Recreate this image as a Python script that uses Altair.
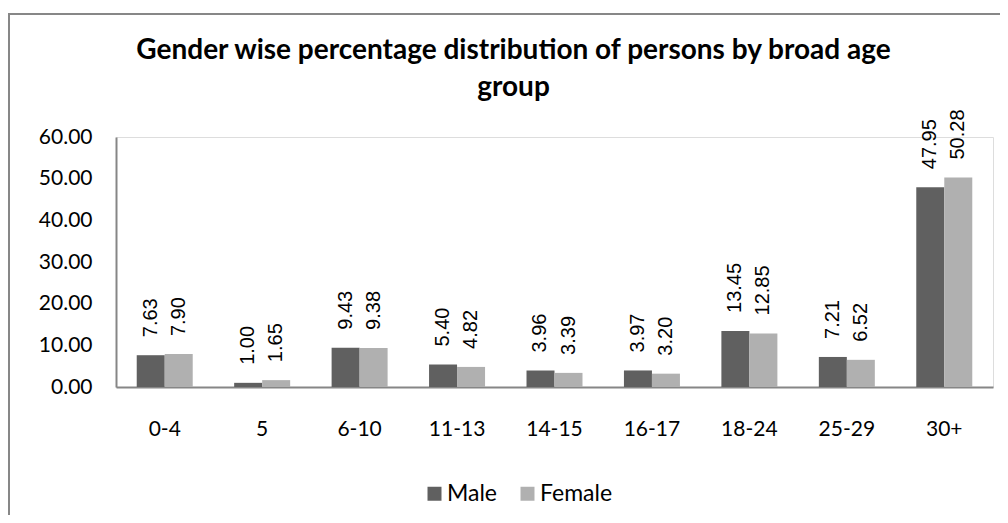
import altair as alt
import pandas as pd

categories = ["0-4", "5", "6-10", "11-13", "14-15", "16-17", "18-24", "25-29", "30+"]
male = [7.63, 1.00, 9.43, 5.40, 3.96, 3.97, 13.45, 7.21, 47.95]
female = [7.90, 1.65, 9.38, 4.82, 3.39, 3.20, 12.85, 6.52, 50.28]
genders = ["Male", "Female"]
y_ticks = [0, 10, 20, 30, 40, 50, 60]

rows = []
for c, m, f in zip(categories, male, female):
    rows.append({"age": c, "gender": "Male", "value": m})
    rows.append({"age": c, "gender": "Female", "value": f})
df = pd.DataFrame(rows)

x_enc = alt.X("age:N", sort=categories,
              scale=alt.Scale(paddingInner=0, paddingOuter=0),
              axis=alt.Axis(title=None, labelAngle=0, ticks=False, domainColor="#868686",
                            domainWidth=2, labelFont="Lato", labelFontSize=21,
                            labelColor="#000000", labelPadding=31))
xoff = alt.XOffset("gender:N", sort=genders,
                   scale=alt.Scale(paddingOuter=0.74, paddingInner=0))
y_enc = alt.Y("value:Q",
              scale=alt.Scale(domain=[0, 60], nice=False),
              axis=alt.Axis(title=None, values=y_ticks, format=".2f", ticks=False, grid=False,
                            domainColor="#868686", domainWidth=2, labelFont="Lato",
                            labelFontSize=21, labelColor="#000000", labelPadding=24))
color = alt.Color("gender:N", sort=genders,
                  scale=alt.Scale(domain=genders, range=["#606060", "#b0b0b0"]),
                  legend=alt.Legend(title=None, orient="none", direction="horizontal",
                                    legendX=307, legendY=345, symbolType="square",
                                    symbolSize=196, symbolStrokeWidth=0, labelFont="Lato",
                                    labelFontSize=23, labelColor="#000000", labelOffset=1,
                                    columnPadding=18, padding=0))

bars = alt.Chart(df).mark_bar().encode(x=x_enc, xOffset=xoff, y=y_enc, color=color)

labels = alt.Chart(df).mark_text(angle=270, align="left", baseline="middle", dx=18,
                                 font="Liberation Sans", fontSize=20, color="#000000").encode(
    x=alt.X("age:N", sort=categories), xOffset=alt.XOffset("gender:N", sort=genders),
    y="value:Q", text=alt.Text("value:Q", format=".2f"))

border = alt.Chart(pd.DataFrame({"a": [0]})).mark_rect(
    fill="transparent", stroke="#878787", strokeWidth=2).encode(
    x=alt.value(-107), x2=alt.value(1000), y=alt.value(-123), y2=alt.value(600))

chart = alt.layer(bars, labels, border).properties(
    width=877, height=250,
    title=alt.Title(["Gender wise percentage distribution of persons by broad age", "group"],
                    anchor="middle", frame="group", dx=-41, dy=111, baseline="alphabetic",
                    font="Lato", fontSize=28, fontWeight="bold", color="#000000",
                    lineHeight=37, offset=0),
    padding={"left": 108, "top": 129, "right": 7, "bottom": 128},
    autosize=alt.AutoSizeParams(type="none"),
).configure_view(stroke=None).configure(background="white")

chart.save("out.html", embed_options={"renderer": "svg", "actions": False})
